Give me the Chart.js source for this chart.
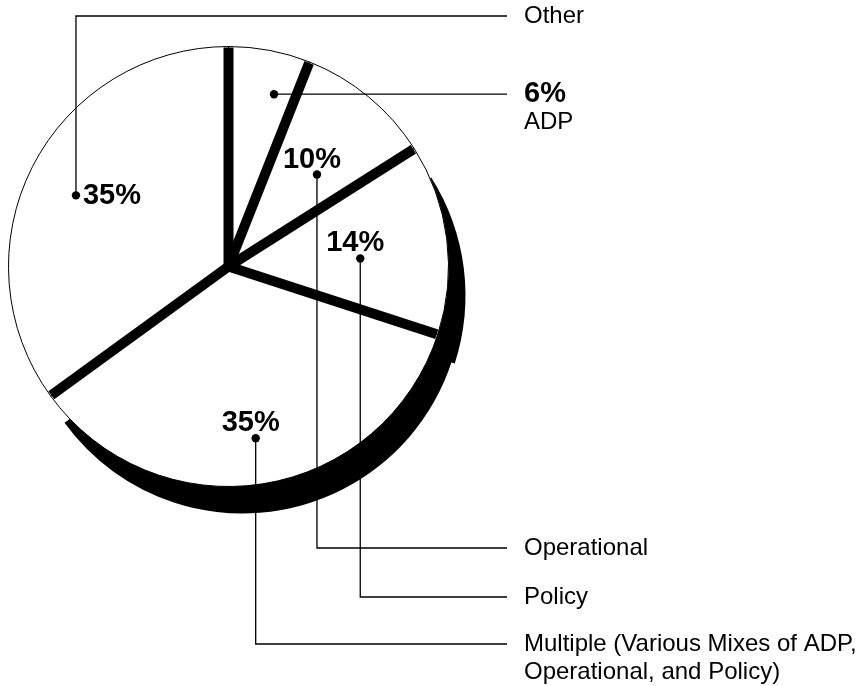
<!DOCTYPE html>
<html>
<head>
<meta charset="utf-8">
<script src="https://cdn.jsdelivr.net/npm/chart.js@4/dist/chart.umd.min.js"></script>
<style>
    html, body { margin: 0; padding: 0; background: #fff; }
    #pie { display: block; }
</style>
</head>
<body>
<canvas id="pie" width="868" height="686"></canvas>
<script>
'use strict';

// slices clockwise from 12 o'clock
const categories = ['ADP', 'Operational', 'Policy', 'Multiple', 'Other'];
const shares = [6, 10, 14, 35, 35];
const percentLabels = ['6%', '10%', '14%', '35%', '35%'];
const labelLines = [
    ['ADP'],
    ['Operational'],
    ['Policy'],
    ['Multiple (Various Mixes of ADP,', 'Operational, and Policy)'],
    ['Other']
];

// callout placement per slice: dot position (fraction of radius, degrees off mid-angle),
// row where the leader ends, and where the bold percentage sits
const callouts = [
    { frac: 0.81, tweak: 4, row: null, pct: 'column' },
    { frac: 0.58, tweak: 4.3, row: 548, pct: 'above' },
    { frac: 0.60, tweak: 3.7, row: 597, pct: 'above' },
    { frac: 0.79, tweak: 0, row: 644, pct: 'above' },
    { frac: 0.765, tweak: -2, row: 16, pct: 'right' }
];
// multiple first so the policy shadow sits on top of it
const shadowOffsets = [[3, 14, 27], [2, 17, 29]];

const FONT = '"Liberation Sans", Arial, Helvetica, sans-serif';
const lineEndX = 507;
const textX = 524;

const pieDecor = {
    id: 'pieDecor',
    beforeDatasetsDraw(chart) {
        const ctx = chart.ctx;
        const arcs = chart.getDatasetMeta(0).data;
        shadowOffsets.forEach(([k, dx, dy]) => {
            const a = arcs[k];
            ctx.save();
            ctx.translate(dx, dy);
            ctx.beginPath();
            ctx.moveTo(a.x, a.y);
            ctx.arc(a.x, a.y, a.outerRadius, a.startAngle, a.endAngle);
            ctx.closePath();
            ctx.fillStyle = '#000';
            ctx.fill();
            ctx.restore();
        });
    },
    afterDatasetsDraw(chart) {
        const ctx = chart.ctx;
        const arcs = chart.getDatasetMeta(0).data;
        ctx.save();

        // thick dividing spokes
        ctx.strokeStyle = '#000';
        ctx.lineWidth = 10;
        ctx.lineCap = 'butt';
        arcs.forEach(a => {
            ctx.beginPath();
            ctx.moveTo(a.x, a.y);
            ctx.lineTo(a.x + (a.outerRadius - 1) * Math.cos(a.startAngle),
                       a.y + (a.outerRadius - 1) * Math.sin(a.startAngle));
            ctx.stroke();
        });

        // callouts
        arcs.forEach((a, i) => {
            const c = callouts[i];
            const ang = (a.startAngle + a.endAngle) / 2 + c.tweak * Math.PI / 180;
            const px = a.x + a.outerRadius * c.frac * Math.cos(ang);
            const py = a.y + a.outerRadius * c.frac * Math.sin(ang);
            const rowY = c.row === null ? py : c.row;

            ctx.strokeStyle = '#000';
            ctx.lineWidth = 1.3;
            ctx.beginPath();
            ctx.moveTo(px, py);
            ctx.lineTo(px, rowY);
            ctx.lineTo(lineEndX, rowY);
            ctx.stroke();

            ctx.fillStyle = '#000';
            ctx.beginPath();
            ctx.arc(px, py, 4.2, 0, Math.PI * 2);
            ctx.fill();

            ctx.textBaseline = 'middle';
            ctx.font = 'bold 29px ' + FONT;
            if (c.pct === 'right') {
                ctx.textAlign = 'left';
                ctx.fillText(percentLabels[i], px + 7, py + 1);
            } else if (c.pct === 'above') {
                ctx.textAlign = 'center';
                ctx.fillText(percentLabels[i], px - 5, py - 15);
            }

            ctx.textAlign = 'left';
            let y = rowY;
            if (c.pct === 'column') {
                ctx.fillText(percentLabels[i], textX, y);
                y += 28;
            }
            ctx.font = '24px ' + FONT;
            labelLines[i].forEach(t => {
                ctx.fillText(t, textX, y);
                y += 28;
            });
        });
        ctx.restore();
    }
};

new Chart(document.getElementById('pie').getContext('2d'), {
    type: 'pie',
    data: {
        labels: categories,
        datasets: [{
            data: shares,
            backgroundColor: '#fff',
            borderColor: '#000',
            borderWidth: 1
        }]
    },
    options: {
        responsive: false,
        animation: false,
        radius: 220,
        layout: { padding: { left: 8, top: 46, right: 419, bottom: 199 } },
        plugins: {
            legend: { display: false },
            tooltip: { enabled: false }
        }
    },
    plugins: [pieDecor]
});
</script>
</body>
</html>
